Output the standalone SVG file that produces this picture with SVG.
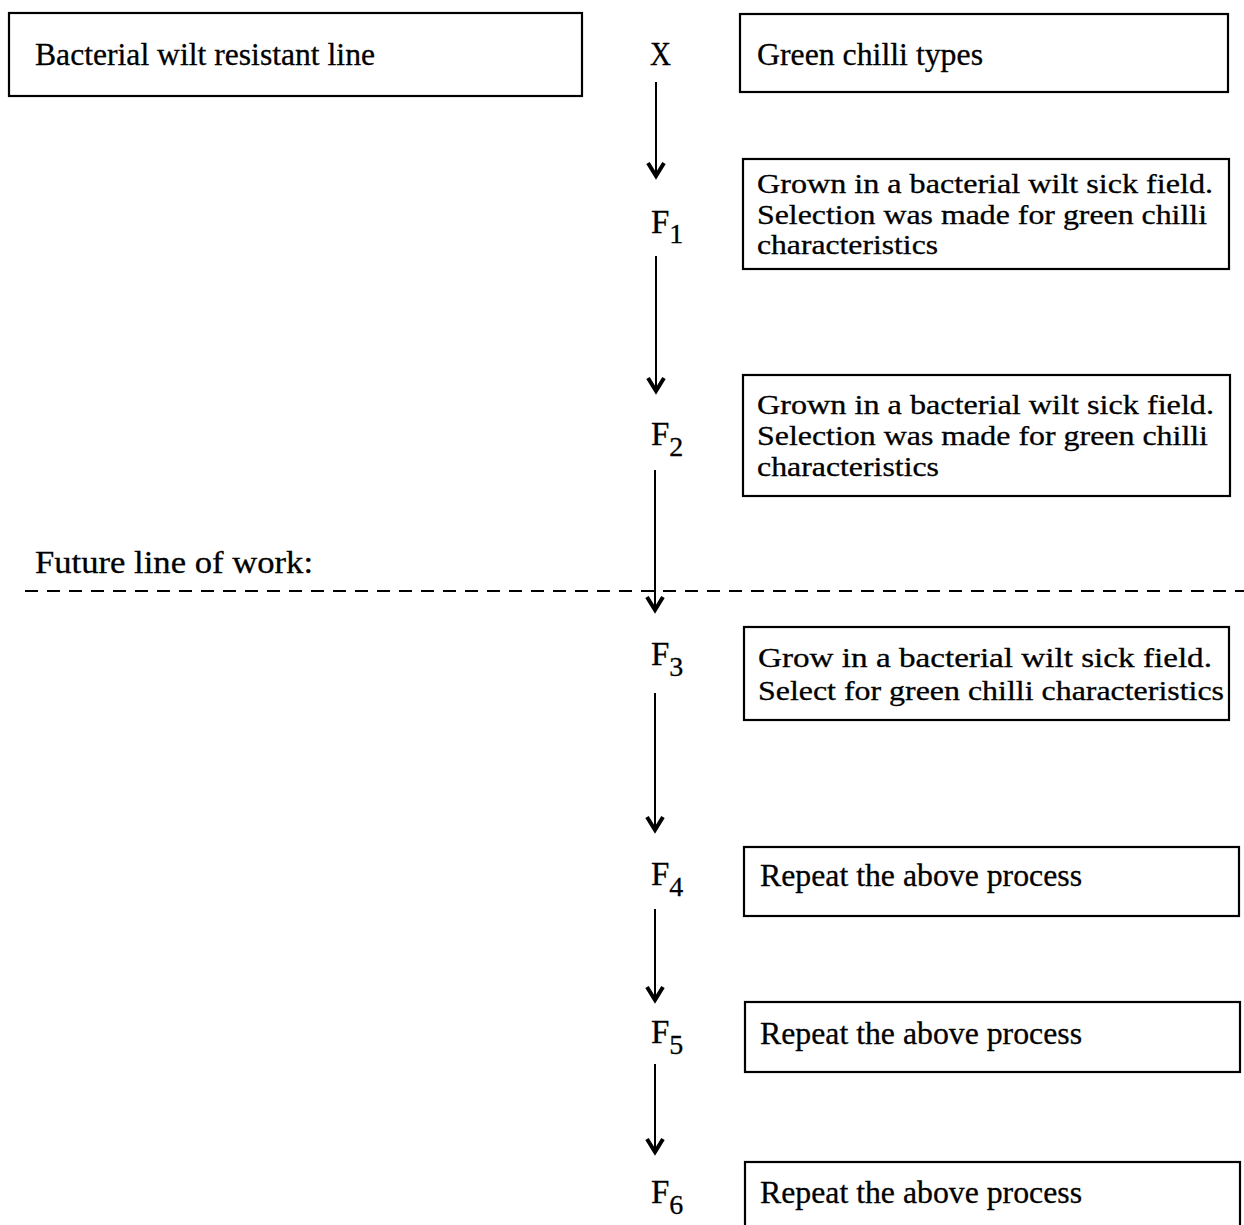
<svg xmlns="http://www.w3.org/2000/svg" width="1244" height="1225" viewBox="0 0 1244 1225">
<style>
.box{fill:none;stroke:#000;stroke-width:2.2}
.t{font-family:"Liberation Serif","Times New Roman",Tinos,serif;font-size:32px;fill:#000;stroke:#000;stroke-width:0.3}
.m{font-size:27px}
.g{font-family:"Liberation Serif","Times New Roman",Tinos,serif;font-size:33px;fill:#000;stroke:#000;stroke-width:0.3}
.x{font-size:34px}
.sub{font-size:28px}
.ln{fill:none;stroke:#000;stroke-width:2}
.hd{fill:none;stroke:#000;stroke-width:4;stroke-linejoin:miter}
.dash{fill:none;stroke:#000;stroke-width:2;stroke-dasharray:13 9}
</style>
<rect width="1244" height="1225" fill="#fff"/>
<g id="n-resistant">
<rect class="box" x="9" y="13" width="573" height="83"/>
<text class="t" x="35" y="65" textLength="340" lengthAdjust="spacingAndGlyphs">Bacterial wilt resistant line</text>
</g>
<g id="n-cross"><text class="g x" x="650" y="65" textLength="21" lengthAdjust="spacingAndGlyphs">X</text></g>
<g id="n-green">
<rect class="box" x="740" y="14" width="488" height="78"/>
<text class="t" x="757" y="65" textLength="226" lengthAdjust="spacingAndGlyphs">Green chilli types</text>
</g>
<g id="n-f1">
<text class="g" x="651" y="233">F<tspan class="sub" dy="10">1</tspan></text>
</g>
<g id="n-f1box">
<rect class="box" x="743" y="159" width="486" height="110"/>
<text class="t m" x="757" y="193" textLength="456" lengthAdjust="spacingAndGlyphs">Grown in a bacterial wilt sick field.</text>
<text class="t m" x="757" y="224" textLength="450" lengthAdjust="spacingAndGlyphs">Selection was made for green chilli</text>
<text class="t m" x="757" y="254" textLength="181" lengthAdjust="spacingAndGlyphs">characteristics</text>
</g>
<g id="n-f2">
<text class="g" x="651" y="445">F<tspan class="sub" dy="11">2</tspan></text>
</g>
<g id="n-f2box">
<rect class="box" x="743" y="375" width="487" height="121"/>
<text class="t m" x="757" y="414" textLength="457" lengthAdjust="spacingAndGlyphs">Grown in a bacterial wilt sick field.</text>
<text class="t m" x="757" y="445" textLength="451" lengthAdjust="spacingAndGlyphs">Selection was made for green chilli</text>
<text class="t m" x="757" y="476" textLength="182" lengthAdjust="spacingAndGlyphs">characteristics</text>
</g>
<g id="n-future">
<text class="t" x="35" y="573" textLength="278" lengthAdjust="spacingAndGlyphs">Future line of work:</text>
</g>
<g id="n-f3">
<text class="g" x="651" y="665">F<tspan class="sub" dy="11">3</tspan></text>
</g>
<g id="n-f3box">
<rect class="box" x="744" y="627" width="485" height="93"/>
<text class="t m" x="758" y="667" textLength="454" lengthAdjust="spacingAndGlyphs">Grow in a bacterial wilt sick field.</text>
<text class="t m" x="758" y="700" textLength="466" lengthAdjust="spacingAndGlyphs">Select for green chilli characteristics</text>
</g>
<g id="n-f4">
<text class="g" x="651" y="885">F<tspan class="sub" dy="11">4</tspan></text>
</g>
<g id="n-f4box">
<rect class="box" x="744" y="847" width="495" height="69"/>
<text class="t" x="760" y="886" textLength="322" lengthAdjust="spacingAndGlyphs">Repeat the above process</text>
</g>
<g id="n-f5">
<text class="g" x="651" y="1043">F<tspan class="sub" dy="11">5</tspan></text>
</g>
<g id="n-f5box">
<rect class="box" x="745" y="1002" width="495" height="70"/>
<text class="t" x="760" y="1044" textLength="322" lengthAdjust="spacingAndGlyphs">Repeat the above process</text>
</g>
<g id="n-f6">
<text class="g" x="651" y="1203">F<tspan class="sub" dy="11">6</tspan></text>
</g>
<g id="n-f6box">
<rect class="box" x="745" y="1162" width="495" height="80"/>
<text class="t" x="760" y="1203" textLength="322" lengthAdjust="spacingAndGlyphs">Repeat the above process</text>
</g>
<g id="connectors">
<line class="dash" x1="25" y1="591" x2="1244" y2="591"/>
<line class="ln" x1="656" y1="82" x2="656" y2="175"/>
<polyline class="hd" points="648,163 656,176 664,163"/>
<line class="ln" x1="656" y1="256" x2="656" y2="390"/>
<polyline class="hd" points="648,378 656,391 664,378"/>
<line class="ln" x1="655" y1="470" x2="655" y2="609"/>
<polyline class="hd" points="647,597 655,610 663,597"/>
<line class="ln" x1="655" y1="693" x2="655" y2="829"/>
<polyline class="hd" points="647,817 655,830 663,817"/>
<line class="ln" x1="655" y1="909" x2="655" y2="999"/>
<polyline class="hd" points="647,987 655,1000 663,987"/>
<line class="ln" x1="655" y1="1064" x2="655" y2="1151"/>
<polyline class="hd" points="647,1139 655,1152 663,1139"/>
</g>
</svg>
